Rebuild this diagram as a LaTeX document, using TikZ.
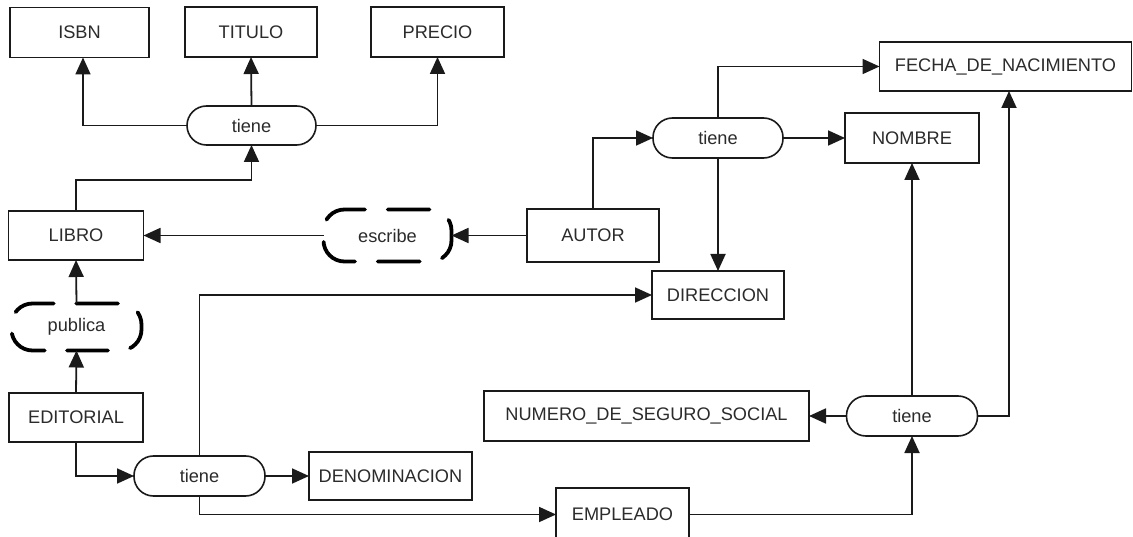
\documentclass[tikz,border=0pt]{standalone}
\usepackage{fontspec}
\setmainfont{Liberation Sans}
\usetikzlibrary{arrows.meta}
\definecolor{txt}{HTML}{2B2B2B}
\definecolor{ln}{HTML}{1A1A1A}
\begin{document}
\begin{tikzpicture}[x=1pt,y=-1pt,
  every node/.style={inner sep=0pt, outer sep=0pt, text=txt, font=\fontsize{18.2}{21}\selectfont},
  box/.style={draw=ln, line width=1.8pt, fill=white},
  stadium/.style={draw=ln, line width=1.6pt, rounded corners=19.5pt, fill=white},
  dashrel/.style={fill=none},
  dline/.style={draw=black, line width=3.8pt, rounded corners=21pt, line cap=round},
  arr/.style={draw=ln, line width=1.8pt, -{Triangle[length=17pt,width=15pt]}},
  con/.style={draw=ln, line width=1.8pt}]
\fill[white] (0,0) rectangle (1133,537);
\useasboundingbox (0,0) rectangle (1133,537);
% nodes
\node[box, minimum width=139pt, minimum height=50pt] (isbn) at (79.5,32.5) {ISBN};
\node[box, minimum width=132pt, minimum height=50pt] (titulo) at (251,32) {TITULO};
\node[box, minimum width=133pt, minimum height=50pt] (precio) at (437.5,32) {PRECIO};
\node[stadium, minimum width=129pt, minimum height=39pt] (t1) at (251.5,125.5) {tiene};
\node[box, minimum width=135pt, minimum height=49pt] (libro) at (76,235.5) {LIBRO};
\node[dashrel, minimum width=128pt, minimum height=52pt] (escribe) at (387.5,235.5) {escribe};
\node[box, minimum width=132pt, minimum height=53pt] (autor) at (593,235.5) {AUTOR};
\node[stadium, minimum width=130pt, minimum height=40pt] (t2) at (718,138) {tiene};
\node[box, minimum width=252pt, minimum height=49pt] (fecha) at (1005.5,66.5) {FECHA\_DE\_NACIMIENTO};
\node[box, minimum width=134pt, minimum height=50pt] (nombre) at (912,138) {NOMBRE};
\node[box, minimum width=132pt, minimum height=48pt] (direccion) at (718,295) {DIRECCION};
\node[dashrel, minimum width=130pt, minimum height=47pt] (publica) at (76.5,327) {publica};
\node[box, minimum width=134pt, minimum height=49pt] (editorial) at (76,417.5) {EDITORIAL};
\node[stadium, minimum width=131pt, minimum height=40pt] (t4) at (199.5,476) {tiene};
\node[box, minimum width=163pt, minimum height=48pt] (denom) at (390.5,476) {DENOMINACION};
\node[box, minimum width=325pt, minimum height=50pt] (nss) at (646.5,416) {NUMERO\_DE\_SEGURO\_SOCIAL};
\node[stadium, minimum width=131pt, minimum height=40pt] (t3) at (912,416) {tiene};
\node[box, minimum width=133pt, minimum height=53pt, text depth=0pt] (empleado) at (622.5,514.5) {EMPLEADO};
% dashed relationship outlines
\draw[dline, dash pattern=on 42pt off 22.8pt, dash phase=21pt]
  (escribe.north) -- (escribe.north east) -- (escribe.south east) -- (escribe.south west) -- (escribe.north west) -- cycle;
\draw[dline, dash pattern=on 41pt off 22.4pt, dash phase=20.5pt]
  (publica.north) -- (publica.north east) -- (publica.south east) -- (publica.south west) -- (publica.north west) -- cycle;
% connectors
\coordinate (lk) at (251.5,180);
\draw[arr] (t1.west) -| ([xshift=3.5pt]isbn.south);
\draw[arr] (t1.north) -- (titulo.south);
\draw[arr] (t1.east) -| (precio.south);
\draw[arr] (libro.north) |- (lk) -- (t1.south);
\draw[arr] (autor.west) -- (escribe.east);
\draw[arr] (escribe.west) -- (libro.east);
\draw[arr] (autor.north) |- (t2.west);
\draw[arr] (t2.north) |- (fecha.west);
\draw[arr] (t2.east) -- (nombre.west);
\draw[arr] (t2.south) -- (direccion.north);
\draw[arr] (editorial.north) -- (publica.south);
\draw[arr] (publica.north) -- (libro.south);
\draw[arr] (editorial.south) |- (t4.west);
\draw[arr] (t4.east) -- (denom.west);
\draw[arr] (t4.north) |- (direccion.west);
\draw[arr] (t4.south) |- (empleado.west);
\draw[arr] (empleado.east) -| (t3.south);
\draw[arr] (t3.west) -- (nss.east);
\draw[arr] (t3.north) -- (nombre.south);
\draw[arr] (t3.east) -| ([xshift=3.5pt]fecha.south);
\end{tikzpicture}
\end{document}
